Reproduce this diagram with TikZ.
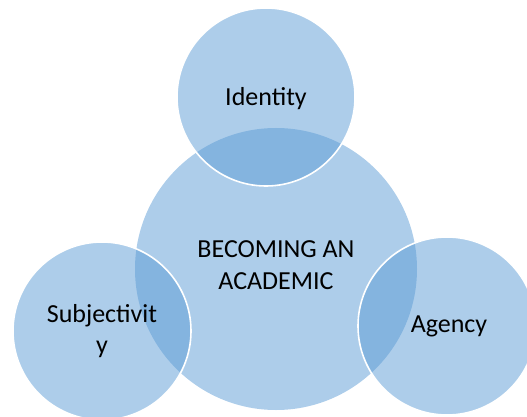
\documentclass[tikz,border=0pt]{standalone}
\usepackage{fontspec}
\setmainfont{Carlito}
\begin{document}
\begin{tikzpicture}[x=1pt,y=-1pt,
  bubble/.style={circle, fill={rgb,255:red,91;green,155;blue,213}, fill opacity=0.5,
    text opacity=1, inner sep=0pt, font=\fontsize{26}{31.5}\selectfont, align=center},
  rim/.style={draw=white, line width=1.6pt}]
  \useasboundingbox (0,0) rectangle (527,417);
  \clip (0,0) rectangle (527,417);
  % central concept
  \node[bubble, minimum size=282pt] (core) at (276,269) {};
  % surrounding concepts
  \node[bubble, rim, minimum size=178pt] (identity) at (266,97) {};
  \node[bubble, rim, minimum size=178pt] (subj) at (102,331) {};
  \node[bubble, rim, minimum size=178pt] (agency) at (447,326) {};
  % labels
  \node[align=center, font=\fontsize{26}{31.5}\selectfont] (tcore) at (276,265) {BECOMING AN\\ACADEMIC};
  \node[font=\fontsize{26}{31.5}\selectfont] (tid) at (266,99) {Identity};
  \node[align=center, font=\fontsize{26}{31.5}\selectfont] (tsubj) at (102,331) {Subjectivit\\y};
  \node[font=\fontsize{26}{31.5}\selectfont] (tag) at (449,326) {Agency};
\end{tikzpicture}
\end{document}
